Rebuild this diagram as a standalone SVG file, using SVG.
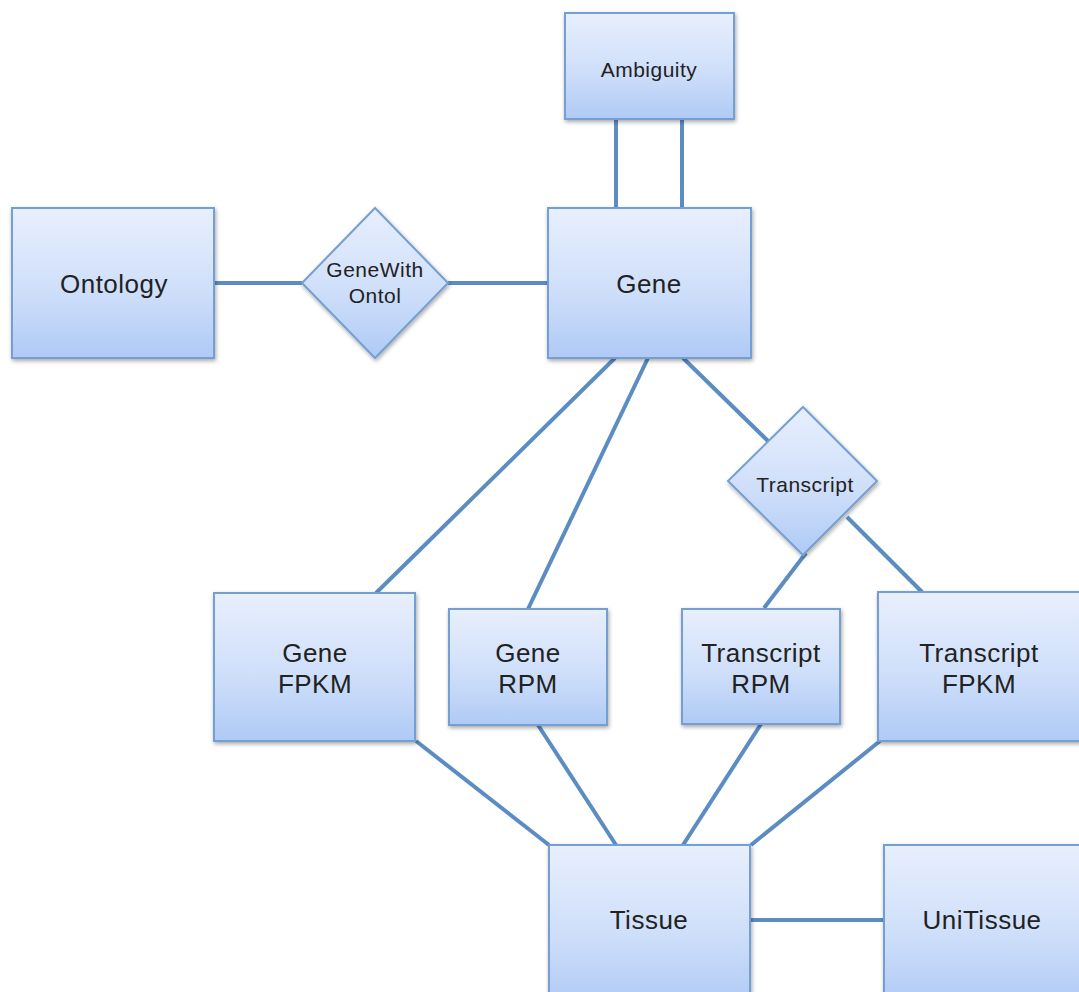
<svg xmlns="http://www.w3.org/2000/svg" width="1079" height="992" viewBox="0 0 1079 992">
<defs>
<linearGradient id="g" x1="0" y1="0" x2="0" y2="1">
<stop offset="0" stop-color="#e8effd"/>
<stop offset="0.55" stop-color="#cfdffa"/>
<stop offset="1" stop-color="#afcaf5"/>
</linearGradient>
<filter id="sh" x="-10%" y="-10%" width="125%" height="125%">
<feGaussianBlur in="SourceAlpha" stdDeviation="2"/>
<feOffset dx="1" dy="2" result="b"/>
<feComponentTransfer><feFuncA type="linear" slope="0.35"/></feComponentTransfer>
<feMerge><feMergeNode/><feMergeNode in="SourceGraphic"/></feMerge>
</filter>
</defs>
<style>
.n{fill:url(#g);stroke:#739fd3;stroke-width:2;filter:url(#sh)}
.c line{stroke:#5b8cc2;stroke-width:4;stroke-linecap:butt}
.t{font-family:"Liberation Sans",Arial,sans-serif;fill:#222222;text-anchor:middle}
.b{font-size:26px;letter-spacing:0.5px}
.s{font-size:21px;letter-spacing:0.5px}
</style>
<rect width="1079" height="992" fill="#ffffff"/>
<g id="connectors" class="c">
<line x1="616" y1="119" x2="616" y2="208"/>
<line x1="682" y1="119" x2="682" y2="208"/>
<line x1="214" y1="283" x2="302" y2="283"/>
<line x1="448" y1="283" x2="548" y2="283"/>
<line x1="615" y1="358" x2="376" y2="593"/>
<line x1="648" y1="358" x2="528" y2="609"/>
<line x1="683" y1="358" x2="769" y2="442"/>
<line x1="806" y1="553" x2="764" y2="608"/>
<line x1="847" y1="517" x2="922" y2="592"/>
<line x1="416" y1="741" x2="549" y2="845"/>
<line x1="538" y1="725" x2="616" y2="845"/>
<line x1="761" y1="724" x2="683" y2="845"/>
<line x1="880" y1="741" x2="751" y2="845"/>
<line x1="750" y1="920" x2="884" y2="920"/>
</g>
<g id="ambiguity"><rect class="n" x="565" y="13" width="169" height="106"/><text class="t s" x="649" y="77">Ambiguity</text></g>
<g id="ontology"><rect class="n" x="12" y="208" width="202" height="150"/><text class="t b" x="114" y="293">Ontology</text></g>
<g id="genewithontol"><polygon class="n" points="375,208 448,283 375,358 302,283"/><text class="t s" x="375" y="277">GeneWith</text><text class="t s" x="375" y="303">Ontol</text></g>
<g id="gene"><rect class="n" x="548" y="208" width="203" height="150"/><text class="t b" x="649" y="293">Gene</text></g>
<g id="transcript"><polygon class="n" points="803,407 877,481 803,555 728,481"/><text class="t s" x="805" y="492">Transcript</text></g>
<g id="genefpkm"><rect class="n" x="214" y="593" width="201" height="148"/><text class="t b" x="315" y="662">Gene</text><text class="t b" x="315" y="693">FPKM</text></g>
<g id="generpm"><rect class="n" x="449" y="609" width="158" height="116"/><text class="t b" x="528" y="662">Gene</text><text class="t b" x="528" y="693">RPM</text></g>
<g id="transcriptrpm"><rect class="n" x="682" y="609" width="158" height="115"/><text class="t b" x="761" y="662">Transcript</text><text class="t b" x="761" y="693">RPM</text></g>
<g id="transcriptfpkm"><rect class="n" x="878" y="592" width="210" height="149"/><text class="t b" x="979" y="662">Transcript</text><text class="t b" x="979" y="693">FPKM</text></g>
<g id="tissue"><rect class="n" x="549" y="845" width="201" height="160"/><text class="t b" x="649" y="929">Tissue</text></g>
<g id="unitissue"><rect class="n" x="884" y="845" width="205" height="160"/><text class="t b" x="982" y="929">UniTissue</text></g>
</svg>
